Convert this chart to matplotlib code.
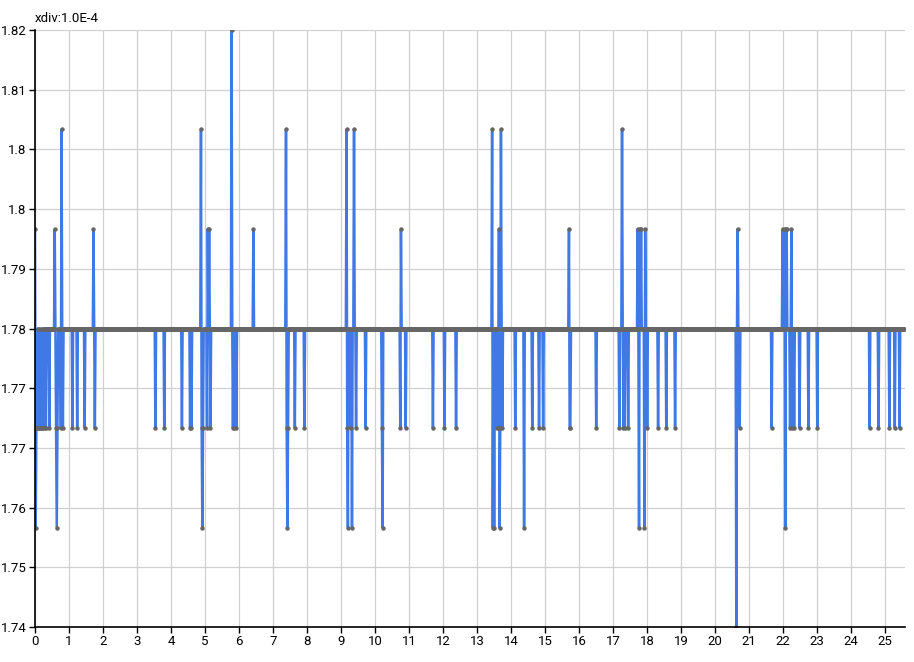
import numpy as np
import matplotlib.pyplot as plt

plt.rcParams['font.family'] = ['Roboto', 'DejaVu Sans']

# sample time in units of 1e-4, base value
t_end = 25.58
dt = 0.02
base = 1.78

# spikes: (x, value)
spike_x = [0.00, 0.02, 0.04, 0.06, 0.10, 0.12, 0.16, 0.18, 0.20, 0.24, 0.28, 0.32,
           0.42, 0.58, 0.62, 0.64, 0.66, 0.76, 0.78, 0.82, 1.10, 1.23, 1.46, 1.72, 1.76,
           3.53, 3.79,
           4.31, 4.56, 4.60, 4.87, 4.90, 4.92, 4.94, 5.05, 5.08, 5.12, 5.15,
           5.78, 5.82, 5.86, 5.91, 6.41, 7.38, 7.40, 7.42, 7.44, 7.63, 7.91,
           9.15, 9.17, 9.20, 9.28, 9.31, 9.38, 9.43, 9.71, 10.19, 10.21,
           10.73, 10.76, 10.89, 11.70, 12.03, 12.37,
           13.44, 13.46, 13.50, 13.58, 13.62, 13.64, 13.66, 13.68, 13.70, 13.73,
           14.12, 14.38, 14.62, 14.81, 14.94, 15.70, 15.72, 15.74, 16.49,
           17.17, 17.26, 17.30, 17.34, 17.43, 17.72, 17.75, 17.77, 17.82,
           17.91, 17.94, 17.99, 18.31, 18.56, 18.82,
           20.62, 20.65, 20.71, 21.65, 21.98, 22.04, 22.06, 22.08, 22.10,
           22.19, 22.23, 22.25, 22.31, 22.47, 22.73, 23.00,
           24.53, 24.79, 25.12, 25.28, 25.41]
spike_y = [1.79333, 1.75333, 1.76667, 1.76667, 1.76667, 1.76667, 1.76667, 1.76667, 1.76667, 1.76667, 1.76667, 1.76667,
           1.76667, 1.79333, 1.76667, 1.75333, 1.76667, 1.76667, 1.80667, 1.76667, 1.76667, 1.76667, 1.76667, 1.79333, 1.76667,
           1.76667, 1.76667,
           1.76667, 1.76667, 1.76667, 1.80667, 1.76667, 1.75333, 1.76667, 1.76667, 1.79333, 1.79333, 1.76667,
           1.82, 1.76667, 1.76667, 1.76667, 1.79333, 1.80667, 1.76667, 1.75333, 1.76667, 1.76667, 1.76667,
           1.80667, 1.76667, 1.75333, 1.76667, 1.75333, 1.80667, 1.76667, 1.76667, 1.76667, 1.75333,
           1.76667, 1.79333, 1.76667, 1.76667, 1.76667, 1.76667,
           1.80667, 1.75333, 1.75333, 1.76667, 1.76667, 1.79333, 1.75333, 1.76667, 1.80667, 1.76667,
           1.76667, 1.75333, 1.76667, 1.76667, 1.76667, 1.79333, 1.76667, 1.76667, 1.76667,
           1.76667, 1.80667, 1.76667, 1.76667, 1.76667, 1.79333, 1.75333, 1.79333, 1.79333,
           1.75333, 1.79333, 1.76667, 1.76667, 1.76667, 1.76667,
           1.74, 1.79333, 1.76667, 1.76667, 1.79333, 1.79333, 1.75333, 1.79333, 1.79333,
           1.76667, 1.79333, 1.76667, 1.76667, 1.76667, 1.76667, 1.76667,
           1.76667, 1.76667, 1.76667, 1.76667, 1.76667]

y_ticks = [1.74, 1.748, 1.756, 1.764, 1.772, 1.78, 1.788, 1.796, 1.804, 1.812, 1.82]
y_labels = ['1.74', '1.75', '1.76', '1.77', '1.77', '1.78', '1.79', '1.8', '1.8', '1.81', '1.82']

t = np.arange(0, t_end, dt)
v = np.full(len(t), base)
for sx, sy in zip(spike_x, spike_y):
    # x in hundredths, odd hundredths go to the next sample
    k = int(round(sx * 100))
    v[(k + 1) // 2] = sy

fig = plt.figure(figsize=(9.14, 6.62), dpi=100)
ax = fig.add_axes([35 / 914, 35 / 662, 870 / 914, 597 / 662])

ax.plot(t, v, color='#4079e6', linewidth=1.8, zorder=3)
ax.plot(t, v, linestyle='none', marker='o', markersize=3.2, color='#666666',
        markeredgewidth=0, zorder=4)

ax.set_xlim(0, t_end)
ax.set_ylim(1.74, 1.82)
ax.set_xticks(range(0, 26))
ax.set_yticks(y_ticks)
ax.set_yticklabels(y_labels)
ax.grid(True, color='#d0d0d0', linewidth=0.9)
ax.set_axisbelow(True)
for s in ['top', 'right']:
    ax.spines[s].set_visible(False)
for s in ['left', 'bottom']:
    ax.spines[s].set_color('black')
    ax.spines[s].set_linewidth(1.2)
    ax.spines[s].set_zorder(5)
ax.tick_params(axis='both', labelsize=9.5, length=4, width=1, color='black', pad=2)

ax.text(0, 1.0 + 12 / 597, 'xdiv:1.0E-4', transform=ax.transAxes, fontsize=9.5,
        ha='left', va='center')

fig.savefig('out.png', dpi=100)
